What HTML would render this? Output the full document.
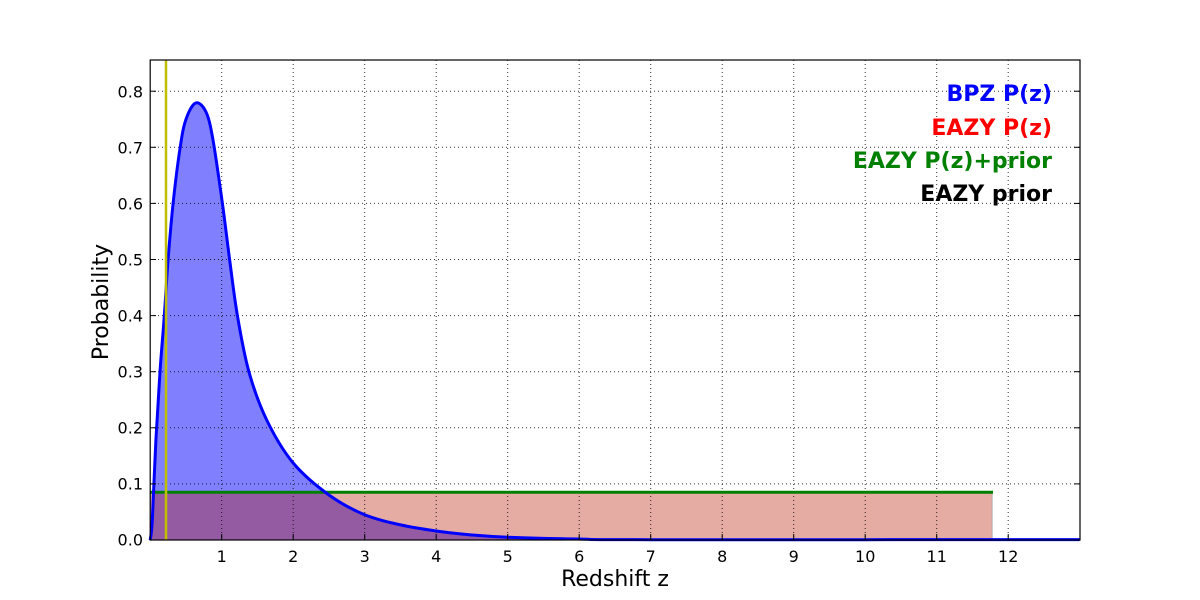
<!DOCTYPE html>
<html><head><meta charset="utf-8"><style>
html,body{margin:0;padding:0;background:#fff;}
svg{display:block;}
text{font-family:"DejaVu Sans","Liberation Sans",sans-serif;}
</style></head><body>
<svg width="1200" height="600" viewBox="0 0 1200 600" xmlns="http://www.w3.org/2000/svg">
<rect width="1200" height="600" fill="#fff"/>
<path id="fillp" d="M150.2,540 L152.3,520 L155.9,440 L160,371.7 L164.3,315.6 L168.1,259.5 L173.1,203.4 L180.2,147.3 L186,119.3 L195.7,103 L206,112 L213,140 L222.4,203.4 L229.6,259.5 L237.4,315.6 L248.9,371.7 L266.7,420 L293.2,463 L329,495 L364.7,514.8 L400.5,524.9 L436.2,531 L472,535 L507.7,537.2 L579.2,539 L650.7,539.7 L1079.7,540 Z" fill="#8080ff"/>
<rect x="150.2" y="492" width="842" height="48" fill="rgb(183,25,0)" fill-opacity="0.36" stroke="#999" stroke-opacity="0.6" stroke-width="1"/>
<g stroke="#000" stroke-width="1" stroke-dasharray="1,3" opacity="0.8">
<line x1="221.7" y1="60" x2="221.7" y2="540"/><line x1="293.2" y1="60" x2="293.2" y2="540"/>
<line x1="364.7" y1="60" x2="364.7" y2="540"/><line x1="436.2" y1="60" x2="436.2" y2="540"/>
<line x1="507.7" y1="60" x2="507.7" y2="540"/><line x1="579.2" y1="60" x2="579.2" y2="540"/>
<line x1="650.7" y1="60" x2="650.7" y2="540"/><line x1="722.2" y1="60" x2="722.2" y2="540"/>
<line x1="793.7" y1="60" x2="793.7" y2="540"/><line x1="865.2" y1="60" x2="865.2" y2="540"/>
<line x1="936.7" y1="60" x2="936.7" y2="540"/><line x1="1008.2" y1="60" x2="1008.2" y2="540"/>
<line x1="150" y1="483.9" x2="1080" y2="483.9"/><line x1="150" y1="427.8" x2="1080" y2="427.8"/>
<line x1="150" y1="371.7" x2="1080" y2="371.7"/><line x1="150" y1="315.6" x2="1080" y2="315.6"/>
<line x1="150" y1="259.5" x2="1080" y2="259.5"/><line x1="150" y1="203.4" x2="1080" y2="203.4"/>
<line x1="150" y1="147.3" x2="1080" y2="147.3"/><line x1="150" y1="91.2" x2="1080" y2="91.2"/>
</g>
<line x1="150.2" y1="492.3" x2="993" y2="492.3" stroke="#008000" stroke-width="3"/>
<path id="linep" d="M150.2,540 L152.3,520 L155.9,440 L160,371.7 L164.3,315.6 L168.1,259.5 L173.1,203.4 L180.2,147.3 L186,119.3 L195.7,103 L206,112 L213,140 L222.4,203.4 L229.6,259.5 L237.4,315.6 L248.9,371.7 L266.7,420 L293.2,463 L329,495 L364.7,514.8 L400.5,524.9 L436.2,531 L472,535 L507.7,537.2 L579.2,539 L650.7,539.7 L1079.7,539.5" fill="none" stroke="#0000ff" stroke-width="3" stroke-linejoin="round"/>
<line x1="166" y1="60" x2="166" y2="540" stroke="#bfbf00" stroke-width="2.5"/>
<rect x="150.2" y="60" width="929.8" height="480" fill="none" stroke="#000" stroke-width="1.2"/>
<g stroke="#000" stroke-width="1">
<line x1="221.7" y1="540" x2="221.7" y2="534"/><line x1="293.2" y1="540" x2="293.2" y2="534"/><line x1="364.7" y1="540" x2="364.7" y2="534"/><line x1="436.2" y1="540" x2="436.2" y2="534"/><line x1="507.7" y1="540" x2="507.7" y2="534"/><line x1="579.2" y1="540" x2="579.2" y2="534"/><line x1="650.7" y1="540" x2="650.7" y2="534"/><line x1="722.2" y1="540" x2="722.2" y2="534"/><line x1="793.7" y1="540" x2="793.7" y2="534"/><line x1="865.2" y1="540" x2="865.2" y2="534"/><line x1="936.7" y1="540" x2="936.7" y2="534"/><line x1="1008.2" y1="540" x2="1008.2" y2="534"/>
<line x1="150" y1="483.9" x2="156" y2="483.9"/><line x1="150" y1="427.8" x2="156" y2="427.8"/><line x1="150" y1="371.7" x2="156" y2="371.7"/><line x1="150" y1="315.6" x2="156" y2="315.6"/><line x1="150" y1="259.5" x2="156" y2="259.5"/><line x1="150" y1="203.4" x2="156" y2="203.4"/><line x1="150" y1="147.3" x2="156" y2="147.3"/><line x1="150" y1="91.2" x2="156" y2="91.2"/>
<line x1="1080" y1="483.9" x2="1074" y2="483.9"/><line x1="1080" y1="427.8" x2="1074" y2="427.8"/><line x1="1080" y1="371.7" x2="1074" y2="371.7"/><line x1="1080" y1="315.6" x2="1074" y2="315.6"/><line x1="1080" y1="259.5" x2="1074" y2="259.5"/><line x1="1080" y1="203.4" x2="1074" y2="203.4"/><line x1="1080" y1="147.3" x2="1074" y2="147.3"/><line x1="1080" y1="91.2" x2="1074" y2="91.2"/>
</g>
<g font-size="16" fill="#000" text-anchor="middle">
<text x="221.7" y="562">1</text><text x="293.2" y="562">2</text><text x="364.7" y="562">3</text><text x="436.2" y="562">4</text><text x="507.7" y="562">5</text><text x="579.2" y="562">6</text><text x="650.7" y="562">7</text><text x="722.2" y="562">8</text><text x="793.7" y="562">9</text><text x="865.2" y="562">10</text><text x="936.7" y="562">11</text><text x="1008.2" y="562">12</text>
</g>
<g font-size="16" fill="#000" text-anchor="end">
<text x="143" y="545.5">0.0</text><text x="143" y="489.5">0.1</text><text x="143" y="433.5">0.2</text><text x="143" y="377.5">0.3</text><text x="143" y="321.5">0.4</text><text x="143" y="265.5">0.5</text><text x="143" y="209.5">0.6</text><text x="143" y="153.5">0.7</text><text x="143" y="97.5">0.8</text>
</g>
<text x="615" y="586" font-size="22" text-anchor="middle">Redshift z</text>
<text x="108" y="302" font-size="22" text-anchor="middle" transform="rotate(-90 108 302)">Probability</text>
<g font-size="22" font-weight="bold" text-anchor="end">
<text x="1052" y="101" fill="#0000ff">BPZ P(z)</text>
<text x="1052" y="135" fill="#ff0000">EAZY P(z)</text>
<text x="1052" y="168" fill="#008000">EAZY P(z)+prior</text>
<text x="1052" y="201" fill="#000">EAZY prior</text>
</g>
</svg>
<script>
(function(){
var P=[[150.2,540],[152.3,520],[155.9,440],[160,371.7],[164.3,315.6],[168.1,259.5],[173.1,203.4],[180.2,147.3],[186,119.3],[195.7,103],[206,112],[213,140],[222.4,203.4],[229.6,259.5],[237.4,315.6],[248.9,371.7],[266.7,420],[293.2,463],[329,495],[364.7,514.8],[400.5,524.9],[436.2,531],[472,535],[507.7,537.2],[579.2,539],[650.7,539.7],[1079.7,539.6]];
var d="M"+P[0][0]+","+P[0][1];
for(var i=0;i<P.length-1;i++){
var p0=P[Math.max(i-1,0)],p1=P[i],p2=P[i+1],p3=P[Math.min(i+2,P.length-1)];
var c1x=p1[0]+(p2[0]-p0[0])/6,c1y=p1[1]+(p2[1]-p0[1])/6;
var c2x=p2[0]-(p3[0]-p1[0])/6,c2y=p2[1]-(p3[1]-p1[1])/6;
c1y=Math.min(c1y,540);c2y=Math.min(c2y,540);
d+=" C"+c1x.toFixed(1)+","+c1y.toFixed(1)+" "+c2x.toFixed(1)+","+c2y.toFixed(1)+" "+p2[0]+","+p2[1];
}
document.getElementById("linep").setAttribute("d",d);
document.getElementById("fillp").setAttribute("d",d+" L1079.7,540 Z");
})();
</script>
</body></html>
